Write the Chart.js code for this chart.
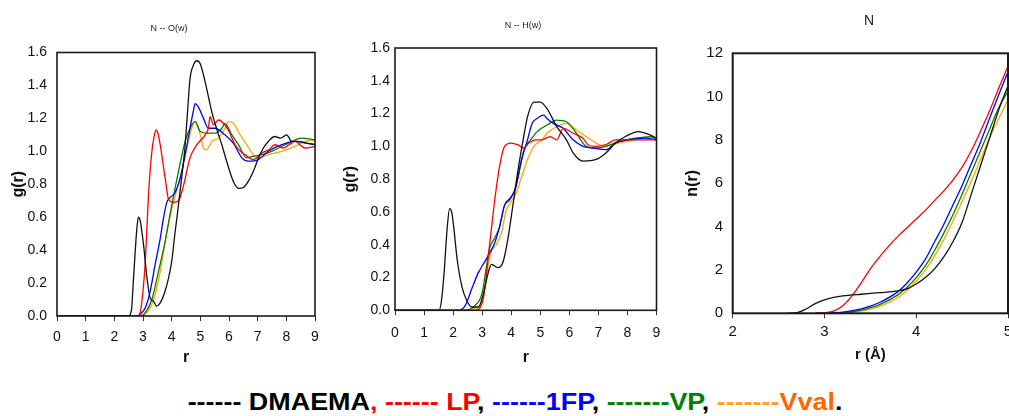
<!DOCTYPE html>
<html>
<head>
<meta charset="utf-8">
<script src="https://cdn.jsdelivr.net/npm/chart.js@4.4.1/dist/chart.umd.min.js"></script>
<style>
  html, body { margin:0; padding:0; background:#fff; }
  #wrap { position:relative; width:1009px; height:416px; overflow:hidden; background:#fff; }
  canvas { position:absolute; top:0; }
  .ttl { position:absolute; transform:translate(-50%,-50%); font-family:'Liberation Sans', Arial, sans-serif; color:#222; white-space:nowrap; line-height:1; }
  #legend { position:absolute; left:514.5px; top:402px; font-family:'Liberation Sans', Arial, sans-serif; font-weight:bold; font-size:23px; line-height:1; white-space:pre; transform:translate(-50%,-50%); }
</style>
</head>
<body>
<div id="wrap">
  <canvas id="c1" width="338" height="370" style="left:0px"></canvas>
  <canvas id="c2" width="330" height="370" style="left:340px"></canvas>
  <canvas id="c3" width="379" height="370" style="left:680px"></canvas>
  <div class="ttl" style="left:169px;top:28px;font-size:9px;">N -- O(w)</div>
  <div class="ttl" style="left:523px;top:25px;font-size:9px;">N -- H(w)</div>
  <div class="ttl" style="left:869px;top:20px;font-size:14px;">N</div>
  <div id="legend"><span style="color:#000">------ DMAEMA</span><span style="color:#ff0000">, ------ LP</span><span style="color:#000">, </span><span style="color:#0000ff">------1FP</span><span style="color:#000">, </span><span style="color:#008000">-------VP</span><span style="color:#000">, </span><span style="color:#ffa31a">-------</span><span style="color:#ff6600">Vval</span><span style="color:#000">.</span></div>
</div>
<script>
// ---------- Panel 1: N -- O(w), g(r) ----------
const no_dmaema_r = [0, 2.5, 2.6, 2.67, 2.79, 2.84, 2.9, 3.02, 3.14, 3.25, 3.37, 3.47, 3.6, 3.75, 3.89, 4.0, 4.12, 4.2, 4.35, 4.45, 4.53, 4.64, 4.75, 4.88, 5.0, 5.17, 5.4, 5.6, 5.75, 5.9, 6.1, 6.2, 6.33, 6.5, 6.73, 6.9, 7.02, 7.2, 7.37, 7.6, 7.8, 8.01, 8.19, 8.4, 8.7, 9.0];
const no_dmaema_g = [0, 0, 0.04, 0.23, 0.54, 0.60, 0.58, 0.43, 0.23, 0.11, 0.09, 0.06, 0.08, 0.14, 0.23, 0.33, 0.51, 0.62, 0.84, 1.0, 1.18, 1.44, 1.52, 1.55, 1.53, 1.42, 1.24, 1.12, 1.04, 0.95, 0.84, 0.80, 0.775, 0.78, 0.835, 0.9, 0.957, 1.02, 1.06, 1.09, 1.08, 1.10, 1.06, 1.06, 1.05, 1.04];
const no_lp_r = [0, 2.8, 2.9, 3.0, 3.08, 3.19, 3.31, 3.4, 3.46, 3.52, 3.6, 3.77, 3.89, 4.06, 4.24, 4.41, 4.64, 4.88, 5.17, 5.28, 5.34, 5.46, 5.63, 5.86, 6.0, 6.21, 6.4, 6.56, 6.85, 7.14, 7.4, 7.6, 7.9, 8.1, 8.3, 8.65, 9.0];
const no_lp_g = [0, 0, 0.02, 0.15, 0.33, 0.73, 1.0, 1.1, 1.13, 1.11, 1.04, 0.84, 0.71, 0.69, 0.70, 0.79, 0.96, 1.04, 1.10, 1.14, 1.21, 1.16, 1.19, 1.16, 1.12, 1.04, 1.0, 0.98, 0.95, 0.99, 1.01, 1.04, 1.02, 1.04, 1.06, 1.02, 1.03];
const no_1fp_r = [0, 2.8, 2.9, 3.08, 3.25, 3.42, 3.6, 3.71, 3.83, 3.95, 4.12, 4.3, 4.47, 4.64, 4.75, 4.82, 4.93, 5.11, 5.28, 5.51, 5.86, 6.15, 6.45, 6.68, 7.02, 7.37, 7.84, 8.3, 8.7, 9.0];
const no_1fp_g = [0, 0, 0.01, 0.05, 0.15, 0.31, 0.47, 0.59, 0.69, 0.72, 0.75, 0.84, 0.98, 1.14, 1.24, 1.29, 1.27, 1.20, 1.14, 1.14, 1.10, 1.05, 0.96, 0.94, 0.95, 1.0, 1.04, 1.06, 1.05, 1.04];
const no_vp_r = [0, 2.9, 3.08, 3.31, 3.54, 3.77, 4.0, 4.24, 4.47, 4.64, 4.82, 5.0, 5.23, 5.51, 5.75, 5.86, 6.1, 6.33, 6.62, 6.85, 7.14, 7.49, 7.96, 8.54, 9.0];
const no_vp_g = [0, 0, 0.02, 0.10, 0.27, 0.45, 0.67, 0.88, 1.06, 1.14, 1.18, 1.12, 1.11, 1.11, 1.14, 1.17, 1.10, 1.04, 0.96, 0.97, 0.98, 1.0, 1.04, 1.08, 1.07];
const no_vval_r = [0, 2.9, 3.08, 3.37, 3.6, 3.83, 4.06, 4.3, 4.53, 4.7, 4.82, 4.9, 5.0, 5.11, 5.23, 5.4, 5.63, 5.86, 5.98, 6.15, 6.39, 6.62, 6.85, 7.02, 7.37, 7.84, 8.3, 8.65, 9.0];
const no_vval_g = [0, 0, 0.01, 0.10, 0.27, 0.51, 0.69, 0.84, 1.02, 1.14, 1.18, 1.15, 1.10, 1.02, 1.01, 1.06, 1.08, 1.14, 1.18, 1.17, 1.10, 1.04, 0.98, 0.96, 0.98, 1.0, 1.03, 1.06, 1.07];

// ---------- Panel 2: N -- H(w), g(r) ----------
const nh_dmaema_r = [0, 1.52, 1.6, 1.69, 1.8, 1.88, 1.95, 2.02, 2.14, 2.31, 2.47, 2.64, 2.87, 3.04, 3.21, 3.32, 3.54, 3.71, 3.88, 4.05, 4.22, 4.39, 4.56, 4.78, 5.0, 5.23, 5.57, 5.9, 6.13, 6.47, 6.92, 7.26, 7.59, 7.93, 8.38, 8.77, 9.0];
const nh_dmaema_g = [0, 0, 0.06, 0.23, 0.51, 0.62, 0.60, 0.51, 0.31, 0.14, 0.06, 0.02, 0.02, 0.10, 0.23, 0.28, 0.26, 0.29, 0.43, 0.63, 0.84, 1.02, 1.18, 1.27, 1.27, 1.23, 1.12, 1.04, 0.96, 0.91, 0.92, 0.96, 1.02, 1.06, 1.09, 1.07, 1.05];
const nh_lp_r = [0, 2.76, 2.99, 3.1, 3.21, 3.32, 3.43, 3.6, 3.77, 3.99, 4.22, 4.44, 4.61, 4.84, 5.06, 5.34, 5.57, 5.79, 6.13, 6.47, 6.64, 6.92, 7.26, 7.59, 8.2, 9.0];
const nh_lp_g = [0, 0, 0.04, 0.14, 0.33, 0.50, 0.67, 0.88, 1.0, 1.02, 1.01, 0.99, 1.02, 1.04, 1.04, 1.06, 1.04, 1.11, 1.08, 1.05, 1.01, 1.0, 1.01, 1.04, 1.04, 1.04];
const nh_1fp_r = [0, 2.19, 2.42, 2.64, 2.87, 3.1, 3.26, 3.43, 3.6, 3.77, 3.99, 4.16, 4.33, 4.56, 4.72, 4.89, 5.12, 5.23, 5.45, 5.79, 6.13, 6.47, 6.81, 7.26, 7.59, 8.04, 8.6, 9.0];
const nh_1fp_g = [0, 0, 0.03, 0.13, 0.23, 0.30, 0.35, 0.41, 0.51, 0.64, 0.69, 0.75, 0.90, 1.04, 1.14, 1.17, 1.19, 1.17, 1.14, 1.11, 1.04, 1.0, 0.99, 0.98, 1.02, 1.04, 1.05, 1.04];
const nh_vp_r = [0, 2.42, 2.76, 2.99, 3.15, 3.26, 3.43, 3.6, 3.77, 3.94, 4.11, 4.27, 4.44, 4.67, 4.89, 5.23, 5.57, 5.9, 6.24, 6.58, 6.92, 7.26, 7.71, 8.27, 8.83, 9.0];
const nh_vp_g = [0, 0, 0.03, 0.10, 0.27, 0.38, 0.44, 0.51, 0.64, 0.67, 0.73, 0.84, 0.98, 1.04, 1.09, 1.13, 1.16, 1.15, 1.08, 1.0, 0.99, 1.0, 1.03, 1.05, 1.06, 1.04];
const nh_vval_r = [0, 2.31, 2.76, 2.99, 3.15, 3.32, 3.49, 3.66, 3.83, 3.99, 4.16, 4.33, 4.56, 4.78, 5.06, 5.23, 5.57, 5.9, 6.24, 6.58, 6.92, 7.26, 7.71, 8.27, 8.72, 9.0];
const nh_vval_g = [0, 0, 0.01, 0.05, 0.22, 0.36, 0.40, 0.47, 0.61, 0.66, 0.71, 0.80, 0.92, 1.0, 1.04, 1.08, 1.12, 1.14, 1.10, 1.06, 1.02, 1.0, 1.02, 1.04, 1.06, 1.04];

// ---------- Panel 3: N, n(r) ----------
const n_dmaema_r = [2.6, 2.7, 2.8, 2.9, 3.0, 3.1, 3.2, 3.4, 3.6, 3.8, 3.9, 4.0, 4.1, 4.2, 4.3, 4.4, 4.5, 4.6, 4.7, 4.8, 4.9, 5.0];
const n_dmaema_n = [0, 0.03, 0.2, 0.45, 0.62, 0.73, 0.8, 0.88, 0.95, 1.03, 1.13, 1.35, 1.65, 2.05, 2.6, 3.3, 4.2, 5.5, 6.8, 8.1, 9.4, 10.5];
const n_lp_r = [2.9, 3.0, 3.1, 3.2, 3.3, 3.4, 3.5, 3.6, 3.7, 3.8, 3.9, 4.0, 4.1, 4.2, 4.3, 4.4, 4.5, 4.6, 4.7, 4.8, 4.9, 5.0];
const n_lp_n = [0, 0.02, 0.1, 0.35, 0.8, 1.4, 2.05, 2.6, 3.1, 3.55, 3.95, 4.35, 4.75, 5.2, 5.65, 6.15, 6.75, 7.5, 8.4, 9.35, 10.4, 11.4];
const n_other_r = [2.9, 3.0, 3.2, 3.4, 3.6, 3.8, 3.9, 4.0, 4.1, 4.2, 4.3, 4.4, 4.5, 4.6, 4.7, 4.8, 4.9, 5.0];
const n_1fp_n = [0, 0.01, 0.05, 0.2, 0.5, 1.0, 1.4, 1.9, 2.5, 3.3, 4.1, 5.0, 5.9, 6.9, 7.9, 9.0, 10.1, 11.15];
const n_vp_n = [0, 0.01, 0.03, 0.15, 0.4, 0.85, 1.2, 1.65, 2.2, 2.9, 3.7, 4.55, 5.5, 6.5, 7.5, 8.5, 9.5, 10.25];
const n_vval_n = [0, 0.01, 0.02, 0.1, 0.32, 0.72, 1.05, 1.5, 2.0, 2.65, 3.4, 4.25, 5.15, 6.1, 7.1, 8.1, 9.0, 9.85];

const seriesNames = ['DMAEMA', 'LP', '1FP', 'VP', 'Vval'];
const seriesColors = ['#111111', '#ff0000', '#0000ff', '#008000', '#ffa500'];

Chart.defaults.font.family = "'Liberation Sans', Arial, sans-serif";
Chart.defaults.color = '#111';

function pts(xs, ys) { return xs.map((x, i) => ({ x: x, y: ys[i] })); }

const framePlugin = {
  id: 'frame',
  afterDatasetsDraw(chart, args, opts) {
    const a = chart.chartArea, ctx = chart.ctx;
    ctx.save();
    ctx.strokeStyle = opts.color || '#1a1a1a';
    ctx.lineWidth = opts.width || 1.5;
    ctx.strokeRect(a.left, a.top, a.right - a.left, a.bottom - a.top);
    ctx.restore();
  }
};

function makePanel(id, seriesData, o) {
  const datasets = seriesData.map((d, i) => ({
    label: seriesNames[i],
    data: pts(d[0], d[1]),
    borderColor: seriesColors[i],
    backgroundColor: seriesColors[i],
    borderWidth: o.lineWidth,
    pointRadius: 0,
    fill: false,
    cubicInterpolationMode: 'monotone'
  }));
  return new Chart(document.getElementById(id), {
    type: 'line',
    data: { datasets: datasets },
    plugins: [framePlugin],
    options: {
      responsive: false,
      animation: false,
      events: [],
      layout: { padding: { top: o.top, right: o.right, bottom: 0, left: 0 } },
      plugins: {
        legend: { display: false },
        tooltip: { enabled: false },
        title: { display: false },
        frame: { width: o.frameWidth, color: '#1a1a1a' }
      },
      scales: {
        x: {
          type: 'linear',
          min: o.xMin, max: o.xMax,
          afterFit: s => { s.height = o.xHeight; },
          ticks: { stepSize: 1, padding: o.xPad, font: { size: o.tickSize }, color: '#111',
                   callback: v => String(v) },
          grid: { display: true, drawOnChartArea: false, drawTicks: true, tickLength: 5, color: '#333', lineWidth: 1 },
          border: { display: false },
          title: { display: true, text: o.xTitle, font: { size: o.xTitleSize, weight: 'bold' }, color: '#111',
                   padding: { top: 0, bottom: o.xTitlePad } }
        },
        y: {
          min: o.yMin, max: o.yMax,
          afterFit: s => { s.width = o.yWidth; },
          ticks: { stepSize: o.yStep, padding: o.yPad, font: { size: o.tickSize }, color: '#111',
                   callback: v => o.yDec ? Number(v).toFixed(o.yDec) : String(Math.round(v)) },
          grid: { display: false, drawTicks: false },
          border: { display: false },
          title: { display: true, text: o.yTitle, font: { size: 16, weight: 'bold' }, color: '#111',
                   padding: { top: o.yTitlePad, bottom: 0 } }
        }
      }
    }
  });
}

makePanel('c1', [
  [no_dmaema_r, no_dmaema_g], [no_lp_r, no_lp_g], [no_1fp_r, no_1fp_g], [no_vp_r, no_vp_g], [no_vval_r, no_vval_g]
], { top: 52.5, right: 23, xHeight: 54, yWidth: 57, xMin: 0, xMax: 9, yMin: 0, yMax: 1.6, yStep: 0.2, yDec: 1,
     xPad: 8, yPad: 10, tickSize: 14, xTitle: 'r', xTitleSize: 16, xTitlePad: 2.4, yTitle: 'g(r)', yTitlePad: 9.4,
     lineWidth: 1.3, frameWidth: 1.6 });

makePanel('c2', [
  [nh_dmaema_r, nh_dmaema_g], [nh_lp_r, nh_lp_g], [nh_1fp_r, nh_1fp_g], [nh_vp_r, nh_vp_g], [nh_vval_r, nh_vval_g]
], { top: 48, right: 8, xHeight: 59.7, yWidth: 55, xMin: 0, xMax: 9, yMin: 0, yMax: 1.6, yStep: 0.2, yDec: 1,
     xPad: 9.6, yPad: 5, tickSize: 14, xTitle: 'r', xTitleSize: 16, xTitlePad: 2.4, yTitle: 'g(r)', yTitlePad: 0.5,
     lineWidth: 1.3, frameWidth: 1.6 });

makePanel('c3', [
  [n_dmaema_r, n_dmaema_n], [n_lp_r, n_lp_n], [n_other_r, n_1fp_n], [n_other_r, n_vp_n], [n_other_r, n_vval_n]
], { top: 53.3, right: 51, xHeight: 56.7, yWidth: 52.7, xMin: 2, xMax: 5, yMin: 0, yMax: 12, yStep: 2, yDec: 0,
     xPad: 5, yPad: 9.7, tickSize: 15, xTitle: 'r (Å)', xTitleSize: 15, xTitlePad: 6, yTitle: 'n(r)', yTitlePad: 3.4,
     lineWidth: 1.3, frameWidth: 2 });

// stretch the legend line to the reference width
(function () {
  const lg = document.getElementById('legend');
  const w = lg.getBoundingClientRect().width;
  const k = 655 / w;
  lg.style.transform = 'translate(-50%,-50%) scaleX(' + k.toFixed(3) + ')';
})();
</script>
</body>
</html>
